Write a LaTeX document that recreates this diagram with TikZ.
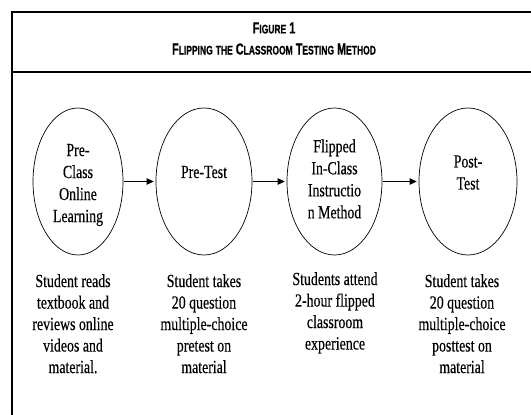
\documentclass[tikz,border=0pt]{standalone}
\usepackage{fontspec}
\setmainfont[FakeStretch=0.75, FakeBold=0.4]{Liberation Serif}
\newfontfamily\headfont[FakeStretch=0.68, FakeBold=0.6]{Liberation Sans}
\usetikzlibrary{shapes.geometric,arrows.meta}

% hand-made small caps for the heading
\newcommand\capword[2]{{\fontsize{16}{18}\selectfont #1}{\fontsize{12.5}{18}\selectfont #2}}

\begin{document}
\begin{tikzpicture}[x=1pt, y=-1pt]
	\tikzstyle{head}      = [inner sep=0pt, font=\headfont\bfseries\fontsize{16}{18}\selectfont]
	\tikzstyle{stage}     = [ellipse, draw=black, line width=0.7pt, minimum height=147pt, inner sep=0pt]
	\tikzstyle{stagetext} = [align=center, inner sep=0pt, font=\fontsize{18.5}{22}\selectfont]
	\tikzstyle{note}      = [align=center, anchor=north, inner sep=0pt, font=\fontsize{18.5}{21.5}\selectfont]
	\tikzstyle{flow}      = [-{Triangle[length=7pt,width=6.5pt]}, line width=1pt, shorten >=2pt, shorten <=1pt]

	\useasboundingbox (0,0) rectangle (531,415);
%	\draw[step=10pt, gray!30] (0,0) grid (531,415);

	% frame and heading
	\draw[line width=1.3pt] (531,12) -- (12,12) -- (12,415);
	\draw[line width=1.3pt] (12,72) -- (531,72);
	\node[head] (fig) at (274,28) {\capword{F}{IGURE} 1};
	\node[head] (title) at (274,49)
		{\capword{F}{LIPPING} \capword{}{THE} \capword{C}{LASSROOM} \capword{T}{ESTING} \capword{M}{ETHOD}};

	% the four stages
	\foreach \name/\x/\w/\ty/\txt in {learn/78/90/185/{Pre-\\Class\\Online\\Learning},
			pretest/204/96/172/{Pre-Test},
			inclass/334.5/95/179/{Flipped\\In-Class\\Instructio\\n Method},
			posttest/468/98/172.5/{Post-\\Test}}
	{
		\node[stage, minimum width=\w*1pt] (\name) at (\x,181.5) {};
		\node[stagetext] (\name-txt) at (\x,\ty) {\txt};
	}

	\foreach \from/\to in {learn/pretest, pretest/inclass, inclass/posttest}
		\draw[flow] (\from) -- (\to);

	% what the student does at each stage
	\foreach \name/\x/\y/\txt in {learn/73/274/{Student reads\\textbook and\\reviews online\\videos and\\material.},
			pretest/204/274/{Student takes\\20 question\\multiple-choice\\pretest on\\material},
			inclass/335/272/{Students attend\\2-hour flipped\\classroom\\experience},
			posttest/462/274/{Student takes\\20 question\\multiple-choice\\posttest on\\material}}
		\node[note] (\name-note) at (\x,\y) {\txt};

\end{tikzpicture}
\end{document}
